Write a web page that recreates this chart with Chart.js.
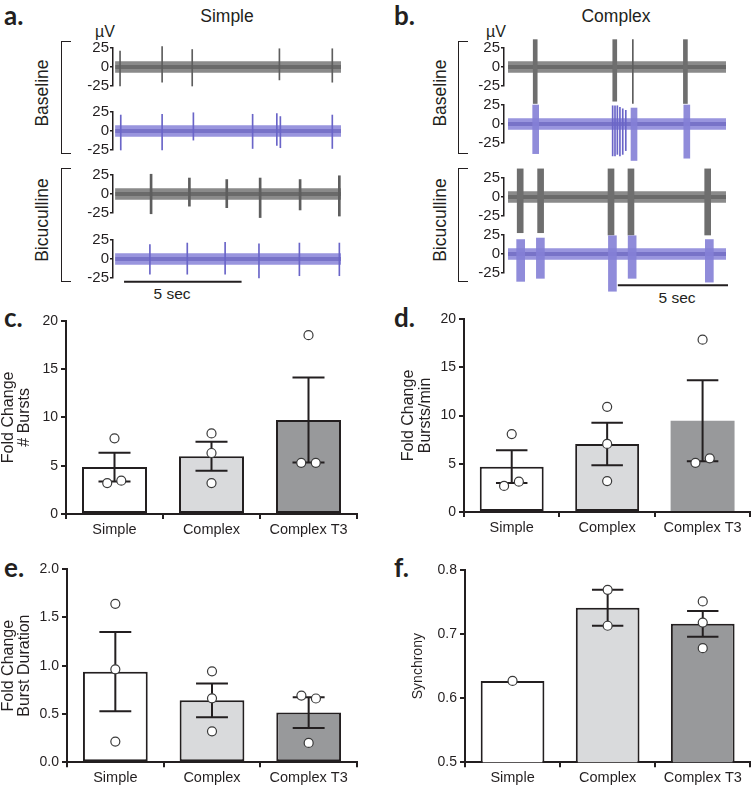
<!DOCTYPE html>
<html>
<head>
<meta charset="utf-8">
<script src="https://cdn.jsdelivr.net/npm/chart.js@4.4.1/dist/chart.umd.min.js"></script>
<style>
  body { margin: 0; background: #fff; }
  #fig { position: relative; width: 756px; height: 788px; overflow: hidden;
         font-family: "Liberation Sans", Arial, sans-serif; color: #231f20; }
  canvas { position: absolute; }
  .t { position: absolute; white-space: nowrap; line-height: 1; transform: translate(-50%, -50%); }
  .rot { transform: translate(-50%, -50%) rotate(-90deg); }
  .lbl { position: absolute; font-family: Lato, sans-serif; font-weight: 700; font-size: 26px; line-height: 1; }
  .br { position: absolute; border: 1.5px solid #231f20; border-right: none; width: 9px; }
</style>
</head>
<body>
<div id="fig">
  <div class="lbl" style="left:4px;top:2px">a.</div>
  <div class="lbl" style="left:394px;top:2px">b.</div>
  <div class="lbl" style="left:4px;top:304px">c.</div>
  <div class="lbl" style="left:394px;top:304px">d.</div>
  <div class="lbl" style="left:4px;top:554px">e.</div>
  <div class="lbl" style="left:394px;top:554px">f.</div>

  <div class="t" style="left:227px;top:17px;font-size:17.5px">Simple</div>
  <div class="t" style="left:616px;top:17px;font-size:17.5px">Complex</div>
  <div class="t" style="left:105px;top:32px;font-size:16px">µV</div>
  <div class="t" style="left:496px;top:32px;font-size:16px">µV</div>

  <div class="br" style="left:61px;top:41px;height:111px"></div>
  <div class="br" style="left:61px;top:168px;height:112px"></div>
  <div class="br" style="left:458px;top:41px;height:111px"></div>
  <div class="br" style="left:458px;top:168px;height:112px"></div>
  <div class="t rot" style="left:43px;top:93px;font-size:17.5px">Baseline</div>
  <div class="t rot" style="left:43px;top:220px;font-size:17.5px">Bicuculline</div>
  <div class="t rot" style="left:441px;top:93px;font-size:17.5px">Baseline</div>
  <div class="t rot" style="left:441px;top:220px;font-size:17.5px">Bicuculline</div>

  <div class="t" style="left:172px;top:294px;font-size:15.5px">5 sec</div>
  <div class="t" style="left:677px;top:298px;font-size:15.5px">5 sec</div>

  <canvas id="a1" width="270" height="118" style="left:73px;top:8px"></canvas>
  <canvas id="a2" width="270" height="118" style="left:73px;top:72px"></canvas>
  <canvas id="a3" width="270" height="118" style="left:73px;top:135px"></canvas>
  <canvas id="a4" width="270" height="118" style="left:73px;top:200px"></canvas>
  <canvas id="b1" width="264" height="118" style="left:464px;top:8px"></canvas>
  <canvas id="b2" width="264" height="118" style="left:464px;top:65px"></canvas>
  <canvas id="b3" width="264" height="118" style="left:464px;top:138px"></canvas>
  <canvas id="b4" width="264" height="118" style="left:464px;top:195px"></canvas>

  <canvas id="c" width="370" height="245" style="left:0;top:300px"></canvas>
  <canvas id="d" width="378" height="245" style="left:378px;top:300px"></canvas>
  <canvas id="e" width="370" height="238" style="left:0;top:550px"></canvas>
  <canvas id="f" width="378" height="238" style="left:378px;top:550px"></canvas>
</div>
<script>
// ---------- traces: each event is [time s, min µV, max µV] ----------
const noiseOuter = [-7.5, 7.5];
const noiseInner = [-2.5, 2.5];

const simpleBaseGray = [[0.30, -25, 21], [2.09, -20, 27], [3.37, -25, 23], [7.08, -17, 24], [9.33, -20, 24]];
const simpleBaseBlue = [[0.33, -25, 21], [2.09, -25, 22], [3.42, -12, 24], [5.94, -23, 22], [6.97, -19, 23], [7.12, -22, 19], [9.33, -23, 21]];
const simpleBicGray = [[1.62, -26, 26], [3.25, -16, 21], [4.84, -18, 19], [6.26, -31, 21], [7.96, -21, 19], [9.63, -29, 24]];
const simpleBicBlue = [[1.57, -20, 19], [3.16, -20, 21], [4.77, -20, 22], [6.21, -25, 20], [7.93, -22, 21], [9.63, -22, 21]];

const complexBaseGraySpikes = [[5.49, -48, 36]];
const complexBaseGrayBursts = [[1.33, -48, 36], [4.72, -45, 36], [7.73, -48, 36]];
const complexBaseBlueSpikes = [[4.63, -42, 24], [4.73, -42, 24], [4.83, -40, 24], [4.94, -42, 22], [5.06, -40, 20], [5.19, -35, 18]];
const complexBaseBlueBursts = [[1.35, -39, 25], [5.54, -48, 21], [7.79, -45, 25]];
const complexBicGrayBursts = [[0.69, -47, 37], [1.56, -47, 37], [4.56, -50, 37], [5.41, -50, 37], [8.68, -50, 37]];
const complexBicBlueBursts = [[0.71, -36, 19], [1.55, -32, 21], [4.62, -49, 24], [5.46, -32, 24], [8.75, -37, 19]];

// scale bars: [start s, length s, level µV]
const scaleBarSimple = [0.47, 5, -30];
const scaleBarComplex = [4.85, 5, -41];

// ---------- bar panels ----------
const groups = ["Simple", "Complex", "Complex T3"];

const burstsMean = [4.85, 5.97, 9.72];
const burstsSem = [1.5, 1.5, 4.4];
const burstsPts = [[7.83, 3.2, 3.45], [8.34, 6.31, 3.2], [18.5, 5.3, 5.3]];

const rateMean = [4.7, 7.05, 9.46];
const rateSem = [1.7, 2.2, 4.2];
const ratePts = [[8.08, 2.7, 3.14], [10.9, 7.05, 3.2], [17.86, 5.1, 5.56]];

const durMean = [0.938, 0.641, 0.514];
const durSem = [0.41, 0.175, 0.16];
const durPts = [[1.64, 0.962, 0.214], [0.941, 0.662, 0.321], [0.69, 0.66, 0.2]];

const syncMean = [0.627, 0.741, 0.716];
const syncSem = [0, 0.028, 0.02];
const syncPts = [[0.627], [0.769, 0.713], [0.751, 0.718, 0.678]];

const AX = "#231f20";
Chart.defaults.font.family = '"Liberation Sans", Arial, sans-serif';
Chart.defaults.color = AX;

function events(list) {
  return list.map(e => ({ x: e[0], y: [e[1], e[2]] }));
}

function traceChart(id, xMax, x0, colors, spikes, bursts, spikeW, burstW, scaleBar) {
  const band = (v) => [{ x: x0, y: v }, { x: xMax, y: v }];
  const datasets = [
    { type: "bar", data: events(spikes), backgroundColor: colors.spike, barThickness: spikeW, grouped: false, clip: false, order: 1 },
    { type: "bar", data: events(bursts), backgroundColor: colors.burst, barThickness: burstW, grouped: false, clip: false, order: 1 },
    { type: "line", data: band(noiseOuter[1]), borderWidth: 0, pointRadius: 0, fill: "+1", backgroundColor: colors.band, order: 3 },
    { type: "line", data: band(noiseOuter[0]), borderWidth: 0, pointRadius: 0, fill: false, order: 3 },
    { type: "line", data: band(noiseInner[1]), borderWidth: 0, pointRadius: 0, fill: "+1", backgroundColor: colors.core, order: 2 },
    { type: "line", data: band(noiseInner[0]), borderWidth: 0, pointRadius: 0, fill: false, order: 2 }
  ];
  if (scaleBar) {
    datasets.push({ type: "line", data: [{ x: scaleBar[0], y: scaleBar[2] }, { x: scaleBar[0] + scaleBar[1], y: scaleBar[2] }],
      borderColor: AX, borderWidth: 2, pointRadius: 0, fill: false, clip: false, order: 0 });
  }
  new Chart(document.getElementById(id), {
    type: "bar",
    data: { datasets },
    options: {
      responsive: false, animation: false, devicePixelRatio: 1,
      layout: { padding: { top: 40, bottom: 40, right: 2, left: 0 } },
      plugins: { legend: { display: false }, tooltip: { enabled: false } },
      scales: {
        x: { type: "linear", min: 0, max: xMax, display: false, offset: false },
        y: {
          min: -25, max: 25,
          afterBuildTicks: s => { s.ticks = [-25, 0, 25].map(v => ({ value: v })); },
          afterFit: s => { s.width = 40; },
          grid: { drawOnChartArea: false, tickLength: 3, color: AX, lineWidth: 1.5 },
          border: { color: AX, width: 1.5 },
          ticks: { font: { size: 15 }, color: AX, padding: 1, autoSkip: false }
        }
      }
    }
  });
}

const grayCol = { band: "#8a8a8a", core: "rgba(40,40,40,0.32)", spike: "#5e5e5e", burst: "#6e6e6e" };
const blueCol = { band: "#9995de", core: "rgba(45,35,150,0.3)", spike: "#6a65c8", burst: "rgba(132,127,214,0.9)" };

traceChart("a1", 9.70, 0.09, grayCol, simpleBaseGray, [], 1, 1);
traceChart("a2", 9.70, 0.09, blueCol, simpleBaseBlue, [], 1, 1);
traceChart("a3", 9.70, 0.09, grayCol, simpleBicGray, [], 2, 1);
traceChart("a4", 9.70, 0.09, blueCol, simpleBicBlue, [], 1, 1, scaleBarSimple);
traceChart("b1", 9.46, 0.17, grayCol, complexBaseGraySpikes, complexBaseGrayBursts, 1, 4);
traceChart("b2", 9.46, 0.17, blueCol, complexBaseBlueSpikes, complexBaseBlueBursts, 1, 6);
traceChart("b3", 9.46, 0.17, grayCol, [], complexBicGrayBursts, 1, 6);
traceChart("b4", 9.46, 0.17, blueCol, [], complexBicBlueBursts, 1, 8, scaleBarComplex);

// ---------- bar charts with mean ± SEM and individual points ----------
const barFill = ["#ffffff", "#d9dadc", "#98999b"];
const jitter = {
  c: [[0, -0.075, 0.07], [0, 0, 0], [0, -0.075, 0.075]],
  d: [[0, -0.08, 0.075], [0, 0, 0], [0, -0.075, 0.075]],
  e: [[0, 0, 0], [0, 0, 0], [-0.075, 0.075, 0]],
  f: [[0], [0, 0], [0, 0, 0]]
};

function errorBars(means, sems) {
  return {
    id: "errorBars",
    afterDatasetDraw(chart, args) {
      if (args.index !== 1) return;
      const { ctx, scales: { x, y } } = chart;
      ctx.save();
      ctx.strokeStyle = AX;
      ctx.lineWidth = 2;
      means.forEach((m, i) => {
        const e = sems[i];
        if (!e) return;
        const cx = x.getPixelForValue(i);
        const half = x.getPixelForValue(i + 0.165) - cx;
        const yt = y.getPixelForValue(m + e), yb = y.getPixelForValue(m - e);
        ctx.beginPath();
        ctx.moveTo(cx, yt); ctx.lineTo(cx, yb);
        ctx.moveTo(cx - half, yt); ctx.lineTo(cx + half, yt);
        ctx.moveTo(cx - half, yb); ctx.lineTo(cx + half, yb);
        ctx.stroke();
      });
      ctx.restore();
    }
  };
}

function barPanel(id, o) {
  const pts = [];
  o.points.forEach((arr, i) => arr.forEach((v, j) => pts.push({ x: i + o.jitter[i][j], y: v })));
  new Chart(document.getElementById(id), {
    type: "bar",
    data: {
      datasets: [
        { type: "scatter", data: pts, pointRadius: 4.5, pointBackgroundColor: "#fff", pointBorderColor: "#3a3a3a", pointBorderWidth: 1.2, clip: false },
        { type: "bar", data: o.means.map((m, i) => ({ x: i, y: m })), backgroundColor: barFill, borderColor: AX,
          borderWidth: o.borders, borderSkipped: false, barPercentage: 0.67, categoryPercentage: 1 }
      ]
    },
    options: {
      responsive: false, animation: false, devicePixelRatio: 1,
      layout: { padding: { top: o.pt, right: o.pr, left: 0, bottom: 0 } },
      plugins: { legend: { display: false }, tooltip: { enabled: false } },
      scales: {
        x: {
          type: "linear", min: -0.5, max: 2.5, offset: false,
          afterBuildTicks: s => { s.ticks = [0, 1, 2].map(v => ({ value: v })); },
          afterFit: s => { s.height = o.xh; },
          grid: { drawOnChartArea: false, tickLength: 5, color: AX, lineWidth: 2 },
          border: { color: AX, width: 2 },
          ticks: { color: AX, font: { size: 14.5 }, padding: 2, autoSkip: false, maxRotation: 0, callback: v => groups[v] }
        },
        y: {
          min: o.yTicks[0], max: o.yTicks[o.yTicks.length - 1],
          afterBuildTicks: s => { s.ticks = o.yTicks.map(v => ({ value: v })); },
          afterFit: s => { s.width = o.yw; },
          grid: { drawOnChartArea: false, tickLength: 5, color: AX, lineWidth: 2 },
          border: { color: AX, width: 2 },
          ticks: { color: AX, font: { size: 14 }, padding: 3, autoSkip: false, callback: v => o.dec ? v.toFixed(1) : v },
          title: { display: true, text: o.title, color: AX, font: { size: o.tsize, lineHeight: 1.03 }, padding: { top: o.tpad, bottom: 0 } }
        }
      }
    },
    plugins: [errorBars(o.means, o.sems)]
  });
}

barPanel("c", { means: burstsMean, sems: burstsSem, points: burstsPts, jitter: jitter.c, borders: 2,
  yTicks: [0, 5, 10, 15, 20], dec: false, title: ["Fold Change", "# Bursts"], tsize: 16, tpad: 0.3,
  pt: 20.7, pr: 13, xh: 31, yw: 66 });
barPanel("d", { means: rateMean, sems: rateSem, points: ratePts, jitter: jitter.d, borders: [2, 2, 0],
  yTicks: [0, 5, 10, 15, 20], dec: false, title: ["Fold Change", "Bursts/min"], tsize: 16, tpad: 22.8,
  pt: 19, pr: 0, xh: 33, yw: 86 });
barPanel("e", { means: durMean, sems: durSem, points: durPts, jitter: jitter.e, borders: 2,
  yTicks: [0, 0.5, 1, 1.5, 2], dec: true, title: ["Fold Change", "Burst Duration"], tsize: 16, tpad: 0,
  pt: 19, pr: 13, xh: 25.7, yw: 67 });
barPanel("f", { means: syncMean, sems: syncSem, points: syncPts, jitter: jitter.f, borders: 2,
  yTicks: [0.5, 0.6, 0.7, 0.8], dec: true, title: "Synchrony", tsize: 14, tpad: 32.8,
  pt: 20, pr: 0, xh: 25.7, yw: 87 });
</script>
</body>
</html>
